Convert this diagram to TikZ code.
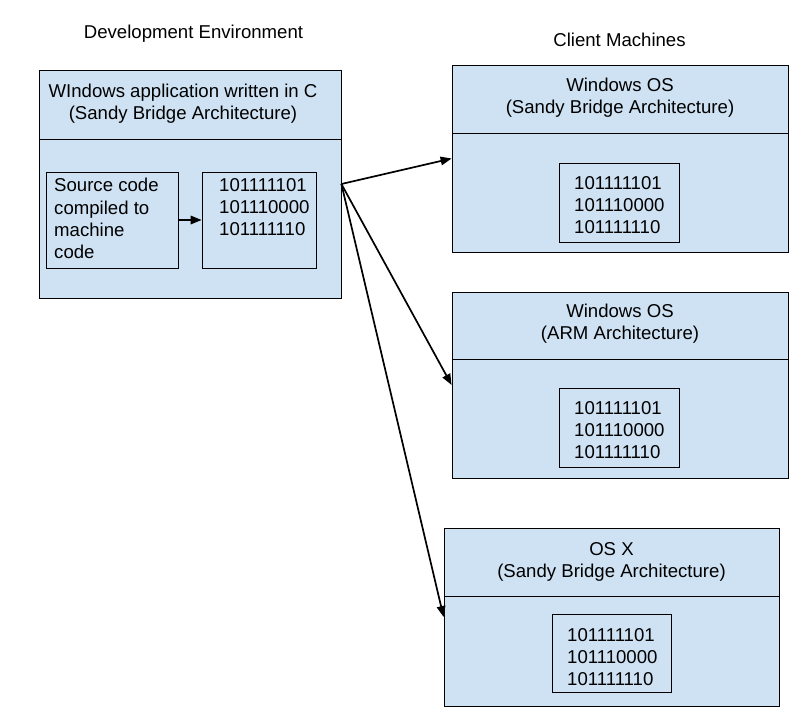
\documentclass[tikz,border=0pt]{standalone}
\usepackage{fontspec}
\setmainfont{Liberation Sans}
\usetikzlibrary{arrows.meta}
\definecolor{boxblue}{HTML}{CFE2F3}
\begin{document}
\begin{tikzpicture}[x=1pt,y=-1pt,
  panel/.style={draw=black, line width=0.8pt, fill=boxblue, inner sep=0pt, rectangle},
  txt/.style={inner sep=0pt, align=center, font=\fontsize{18.6}{22.3}\selectfont},
  ltxt/.style={inner sep=0pt, align=left, anchor=west, font=\fontsize{18.6}{22.3}\selectfont},
  divider/.style={draw=black, line width=0.8pt},
  conn/.style={line width=1.7pt, -{Triangle[length=11pt,width=8.5pt]}},
  ]
\useasboundingbox (0,0) rectangle (807,712);
% titles
\node[txt] (title1) at (193.5,34) {Development Environment};
\node[txt] (title2) at (619.5,40) {Client Machines};
% development panel
\node[panel, minimum width=301.5pt, minimum height=228pt] (dev) at (190.25,184) {};
\draw[divider] (dev.west |- 0,139) -- (dev.east |- 0,139);
\node[panel, minimum width=132pt, minimum height=96pt] (src) at (112,220) {};
\node[panel, minimum width=114pt, minimum height=96pt] (bin0) at (259,220) {};
\node[txt] (devh) at (183,104) {WIndows application written in C\\(Sandy Bridge Architecture)};
\node[ltxt] (srct) at (54,218.5) {Source code\\compiled to\\machine\\code};
\node[ltxt] (bin0t) at (219,207) {101111101\\101110000\\101111110};
% client 1
\node[panel, minimum width=336pt, minimum height=187pt] (c1) at (620,158.5) {};
\draw[divider] (c1.west |- 0,133) -- (c1.east |- 0,133);
\node[panel, minimum width=120pt, minimum height=79pt] (c1b) at (619,202.5) {};
\node[txt] (c1h) at (620,98) {Windows OS\\(Sandy Bridge Architecture)};
\node[ltxt] (c1t) at (574,205) {101111101\\101110000\\101111110};
% client 2
\node[panel, minimum width=336pt, minimum height=186pt] (c2) at (620,385) {};
\draw[divider] (c2.west |- 0,359) -- (c2.east |- 0,359);
\node[panel, minimum width=120pt, minimum height=79pt] (c2b) at (619,427.5) {};
\node[txt] (c2h) at (620,324) {Windows OS\\(ARM Architecture)};
\node[ltxt] (c2t) at (574,430) {101111101\\101110000\\101111110};
% client 3
\node[panel, minimum width=335pt, minimum height=178pt] (c3) at (611.5,617) {};
\draw[divider] (c3.west |- 0,596) -- (c3.east |- 0,596);
\node[panel, minimum width=119pt, minimum height=78pt] (c3b) at (611.5,653) {};
\node[txt] (c3h) at (611.5,562) {OS X\\(Sandy Bridge Architecture)};
\node[ltxt] (c3t) at (567,657) {101111101\\101110000\\101111110};
% connectors
\draw[conn] (src.east) -- (bin0.west);
\draw[conn] (dev.east) -- (c1.west);
\draw[conn] (dev.east) -- (c2.west);
\draw[conn] (dev.east) -- (c3.west);
\end{tikzpicture}
\end{document}
